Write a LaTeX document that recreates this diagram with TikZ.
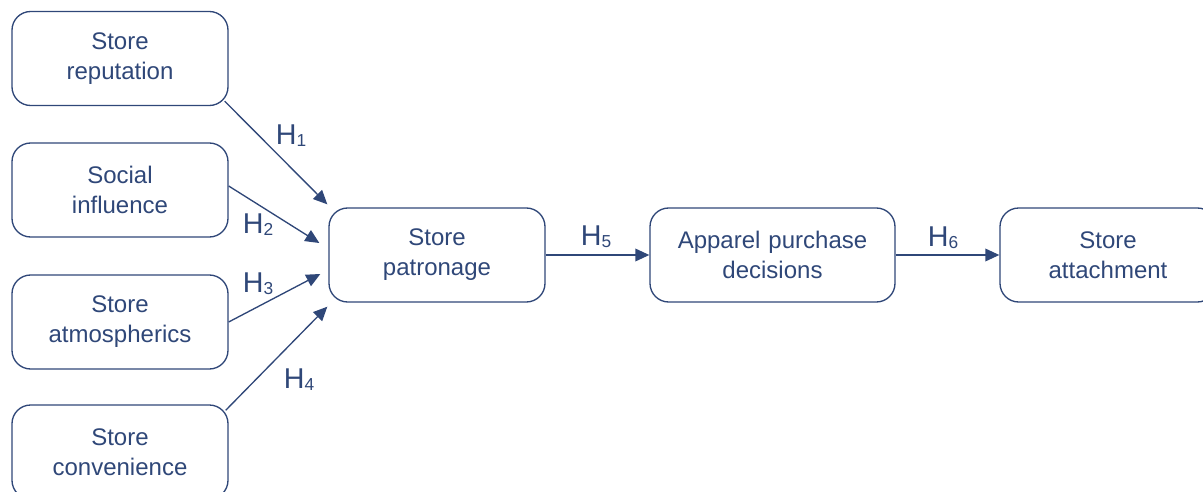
\documentclass[tikz,border=0pt]{standalone}
\usepackage{fontspec}
\setmainfont{Liberation Sans}
\usetikzlibrary{arrows.meta, calc}
\definecolor{navy}{HTML}{2F4778}
\tikzstyle{factor} = [rectangle, rounded corners=14pt, minimum width=162pt, minimum height=70.5pt, text width=155pt, align=center, draw=navy, text=navy, line width=1pt, font=\fontsize{18}{22.5}\selectfont]
\tikzstyle{path} = [-{Triangle[length=10.5pt,width=9.5pt]}, draw=navy, line width=1pt]
\tikzstyle{hyp} = [text=navy, font=\fontsize{21.5}{24}\selectfont]
\newcommand{\hsub}[1]{H\raisebox{-1.5pt}{\fontsize{13}{14}\selectfont #1}}

\begin{document}
\begin{tikzpicture}[x=0.75pt, y=-0.75pt]
		\clip (0,0) rectangle (1203,492);
		\useasboundingbox (0,0) rectangle (1203,492);

		\node (rep) [factor] at (120,58.5) {Store\\reputation};
		\node (soc) [factor] at ($(rep) + (0,131.5)$) {Social\\influence};
		\node (atm) [factor] at ($(soc) + (0,132)$) {Store\\atmospherics};
		\node (conv) [factor] at ($(atm) + (0,130)$) {Store\\convenience};
		\node (pat) [factor] at (437,255) {Store\\patronage};
		\node (app) [factor, minimum width=183.75pt, text width=175pt] at ($(pat) + (335.5,0)$) {Apparel purchase\\decisions};
		\node (att) [factor] at ($(app) + (335.5,0)$) {Store\\attachment};

		\coordinate (in1) at ($(pat.north west) + (-1,-3)$);
		\coordinate (in2) at ($(pat.west) + (-9,-12)$);
		\coordinate (in3) at ($(pat.west) + (-8,19)$);
		\coordinate (in4) at ($(pat.south west) + (-1,4)$);

		\draw[path] ($(rep.south east) + (-4,-5)$) -- (in1);
		\draw[path] ($(soc.east) + (0,-4)$) -- (in2);
		\draw[path] (atm.east) -- (in3);
		\draw[path] ($(conv.north east) + (-3,6)$) -- (in4);
		\draw[path] (pat) -- (app);
		\draw[path] (app) -- (att);

		\node[hyp] (h1) at (291,136) {\hsub{1}};
		\node[hyp] (h2) at (258,225) {\hsub{2}};
		\node[hyp] (h3) at (258,284) {\hsub{3}};
		\node[hyp] (h4) at (299,380) {\hsub{4}};
		\node[hyp] (h5) at (596,237) {\hsub{5}};
		\node[hyp] (h6) at (943,238) {\hsub{6}};
	\end{tikzpicture}
\end{document}
